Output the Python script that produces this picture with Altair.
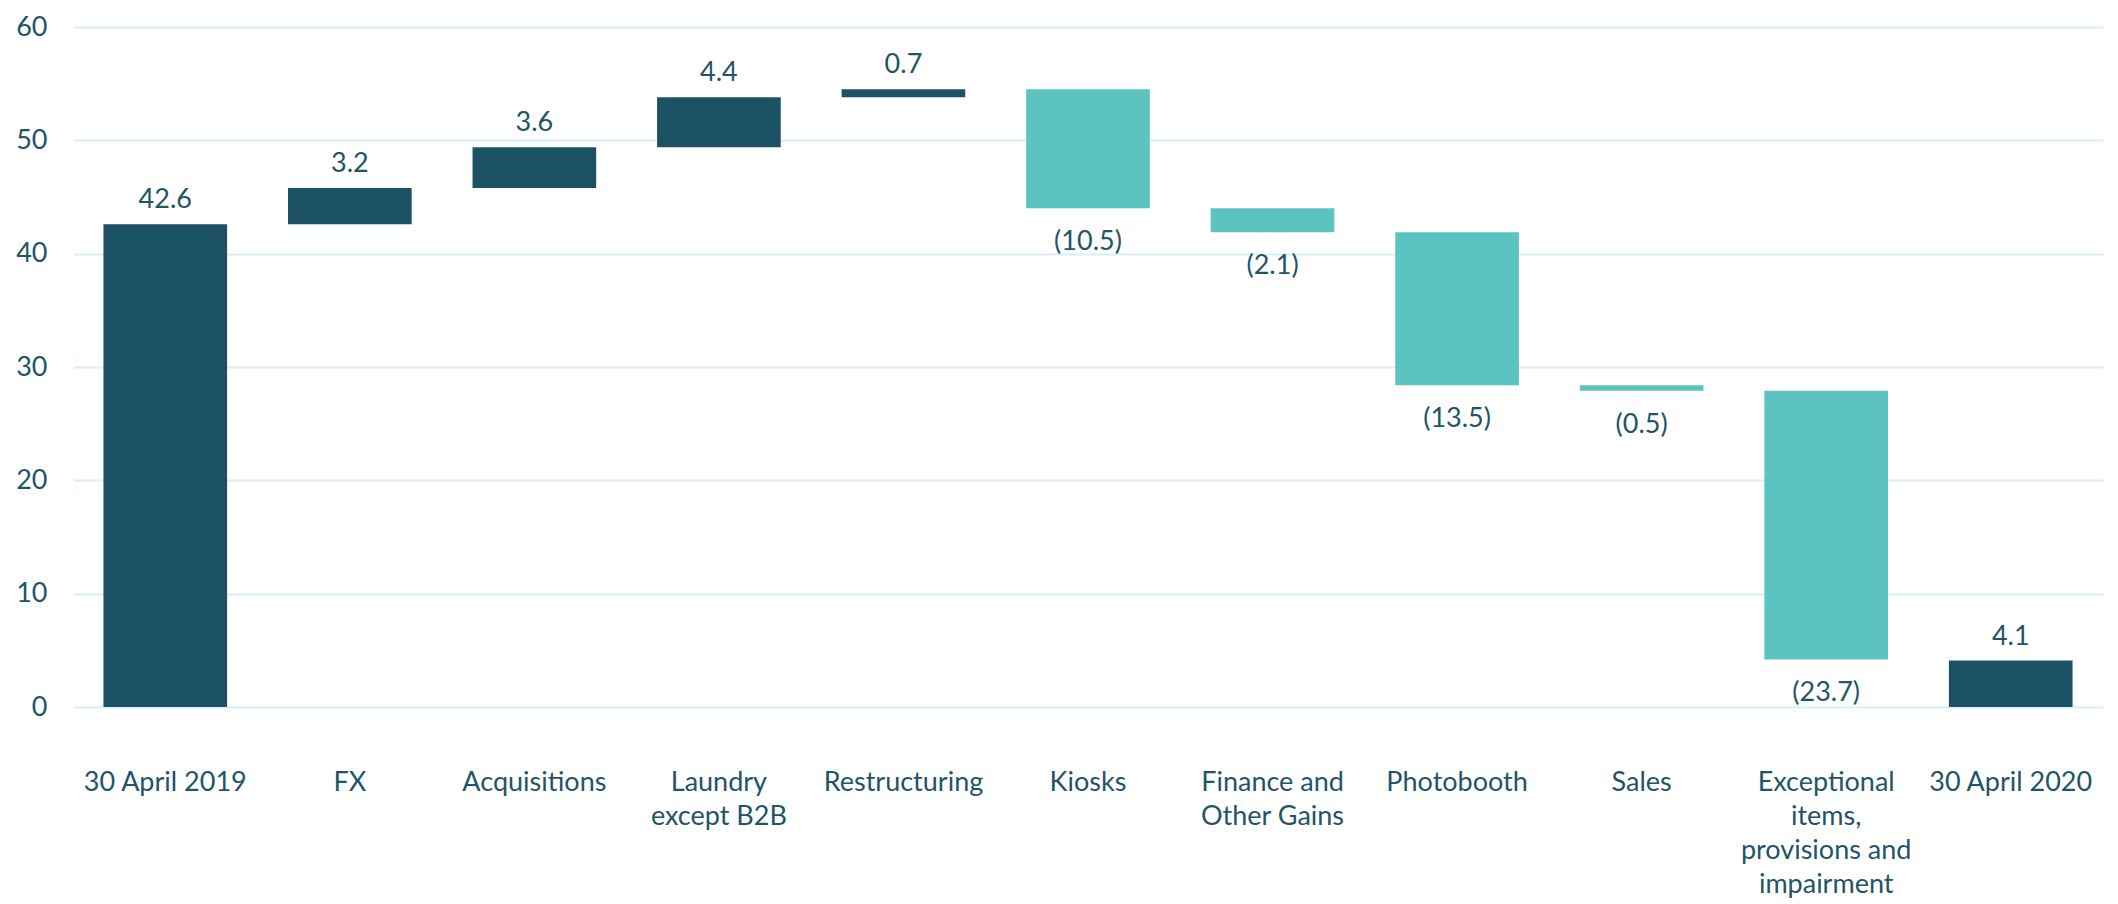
import altair as alt
import pandas as pd

categories = ["30 April 2019", "FX", "Acquisitions", "Laundry|except B2B", "Restructuring",
              "Kiosks", "Finance and|Other Gains", "Photobooth", "Sales",
              "Exceptional|items,|provisions and|impairment", "30 April 2020"]
values = [42.6, 3.2, 3.6, 4.4, 0.7, -10.5, -2.1, -13.5, -0.5, -23.7, 4.1]
kinds = ["total", "delta", "delta", "delta", "delta", "delta", "delta", "delta", "delta", "delta", "total"]

rows = []
running = 0.0
for i, (c, v, k) in enumerate(zip(categories, values, kinds)):
    if k == "total":
        start, end = 0.0, v
        running = v
    else:
        start, end = running, running + v
        running = end
    lo, hi = min(start, end), max(start, end)
    rows.append({
        "cat": c, "order": i, "lo": lo, "hi": hi,
        "sign": "dec" if v < 0 else "inc",
        "label": f"({abs(v):.1f})" if v < 0 else f"{v:.1f}",
    })
df = pd.DataFrame(rows)

TXT = "#1F5566"
FONT = "Lato"
FS = 27

x = alt.X("cat:N", sort=categories, title=None,
          scale=alt.Scale(paddingInner=0.33, paddingOuter=0.165),
          axis=alt.Axis(labelAngle=0, domain=False, ticks=False, labelPadding=62,
                        labelFontSize=FS, labelColor=TXT, labelFont=FONT,
                        labelLineHeight=34, labelBaseline="top", labelLimit=300,
                        labelExpr="split(datum.label, '|')"))

bars = alt.Chart(df).mark_bar().encode(
    x=x,
    y=alt.Y("lo:Q", title=None, scale=alt.Scale(domain=[0, 60], nice=False),
            axis=alt.Axis(values=[0, 10, 20, 30, 40, 50, 60], grid=True, gridColor="#D9EEF5",
                          gridWidth=2, domain=False, ticks=False, labelPadding=26,
                          labelFontSize=FS, labelColor=TXT, labelFont=FONT,
                          minExtent=60, maxExtent=60)),
    y2="hi:Q",
    color=alt.Color("sign:N", scale=alt.Scale(domain=["inc", "dec"], range=["#1C5264", "#5BC4C0"]),
                    legend=None),
)

pos_labels = alt.Chart(df).transform_filter("datum.sign == 'inc'").mark_text(
    baseline="alphabetic", dy=-16, fontSize=FS, color=TXT, font=FONT
).encode(x=alt.X("cat:N", sort=categories), y="hi:Q", text="label:N")

neg_labels = alt.Chart(df).transform_filter("datum.sign == 'dec'").mark_text(
    baseline="alphabetic", dy=42, fontSize=FS, color=TXT, font=FONT
).encode(x=alt.X("cat:N", sort=categories), y="lo:Q", text="label:N")

chart = alt.layer(bars, pos_labels, neg_labels).properties(
    width=2030, height=680,
    autosize=alt.AutoSizeParams(type="none"),
    padding={"left": 65, "top": 19, "right": 7, "bottom": 195},
).configure_view(stroke=None)

chart.save("out.html", embed_options={"renderer": "svg", "actions": False})
